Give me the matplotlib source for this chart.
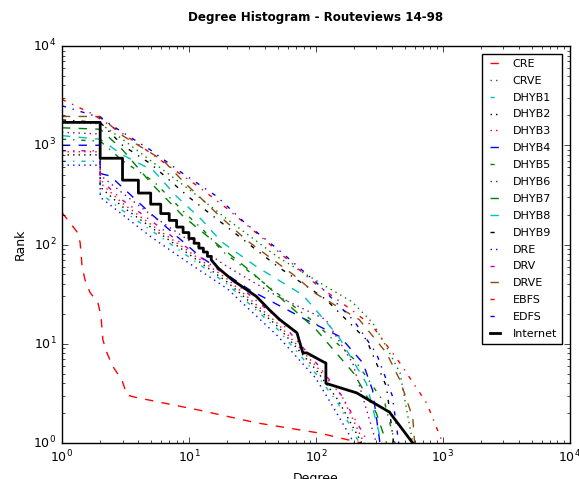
import matplotlib
matplotlib.use("Agg")
from matplotlib import pyplot as plt

plt.style.use("classic")
plt.rcParams["font.family"] = ["DejaVu Sans"]

# degree / rank pairs
cre_deg = [1, 1.31, 1.39, 1.44, 1.52, 1.66, 1.92, 2.03, 2.1, 2.26, 2.52, 2.97, 3.25, 3.75, 7.8, 12, 34, 107, 230]
cre_rank = [210, 135, 105, 60, 44, 33, 26, 19, 11, 8.1, 5.9, 4.3, 3.05, 2.9, 2.4, 2.15, 1.6, 1.26, 1]

crve_deg = [1, 2, 3, 5, 10, 20, 50, 108, 192, 280, 360, 460, 580]
crve_rank = [1700, 1650, 1150, 700, 360, 180, 75, 41, 26.6, 16.3, 9.3, 5.1, 1]

dhyb1_deg = [1, 2, 2, 3, 5, 10, 20, 50, 100, 150, 220]
dhyb1_rank = [690, 690, 330, 220, 140, 75, 40, 14, 5, 2.5, 1]

dhyb2_deg = [1, 2, 2, 3, 5, 10, 20, 50, 100, 150, 230]
dhyb2_rank = [800, 800, 380, 240, 150, 80, 42, 15, 5.5, 2.7, 1]

dhyb3_deg = [1, 2, 2, 3, 5, 10, 20, 50, 100, 160, 240]
dhyb3_rank = [860, 860, 420, 260, 160, 85, 45, 16, 6, 3, 1]

dhyb4_deg = [1, 2, 2, 2.4, 4.9, 12.2, 30, 80, 155, 235, 280, 320]
dhyb4_rank = [1000, 1000, 520, 490, 210, 76, 35, 18, 11.8, 6.4, 3.4, 1]

dhyb5_deg = [1, 2, 3, 5.3, 9.6, 12.9, 18.5, 40, 100, 200, 350, 420]
dhyb5_rank = [1150, 1100, 700, 430, 200, 141, 85, 40, 16, 7, 2.5, 1]

dhyb6_deg = [1, 2, 2, 3, 5, 10, 20, 50, 120, 195, 300]
dhyb6_rank = [1350, 1300, 500, 330, 200, 110, 60, 30, 17.5, 6.4, 1]

dhyb7_deg = [1, 2, 3, 5, 9, 13, 30, 60, 100, 200, 300, 360]
dhyb7_rank = [1500, 1450, 900, 420, 193, 131, 55, 25, 14, 5, 2, 1]

dhyb8_deg = [1, 2, 3, 5.3, 8, 12.6, 18, 34, 79, 150, 250, 330]
dhyb8_rank = [1250, 1150, 800, 550, 305, 178, 107, 60, 31, 12, 4, 1]

dhyb9_deg = [1, 2, 3, 5, 10, 20, 50, 120, 250, 360, 410]
dhyb9_rank = [1800, 1700, 1000, 650, 300, 150, 60, 28, 11, 3.7, 1]

dre_deg = [1, 2, 2, 3, 5, 10, 20, 50, 100, 140, 200]
dre_rank = [630, 630, 300, 200, 120, 65, 36, 12, 4.5, 2.2, 1]

drv_deg = [1, 2, 2, 3, 5, 10, 20, 50, 100, 160, 260]
drv_rank = [880, 880, 450, 280, 175, 90, 48, 18, 6.5, 3, 1]

drve_deg = [1, 2, 3, 6.3, 9, 12.2, 17.5, 28.6, 66, 100, 220, 360, 460, 580, 600]
drve_rank = [1950, 1950, 1250, 700, 433, 300, 193, 110, 50, 32, 17.5, 8.1, 4.3, 1.8, 1]

ebfs_deg = [1, 1.7, 3.25, 7.6, 12, 20, 40, 100, 200, 280, 460, 750, 1000]
ebfs_rank = [2900, 2100, 1230, 570, 380, 230, 110, 40, 21, 15, 6.4, 2.5, 1]

edfs_deg = [1, 2, 3, 4.9, 8.5, 16.6, 27, 50, 100, 200, 300, 400, 450]
edfs_rank = [2500, 1900, 1350, 910, 545, 305, 170, 90, 42, 17, 8, 3, 1]

inet_deg = [1, 2, 2, 3, 3, 4, 4, 5, 5, 6, 6, 7, 7, 8, 8, 9, 9, 10, 10, 11, 11, 12, 12,
            13, 13, 14, 14, 15, 15, 17, 22, 34, 43, 52, 71, 79, 85, 114, 120, 120, 210, 380, 580]
inet_rank = [1700, 1700, 740, 740, 445, 445, 330, 330, 255, 255, 205, 205, 175, 175, 150,
             150, 132, 132, 115, 115, 103, 103, 92, 92, 84, 84, 76, 76, 70, 58, 44, 30, 22,
             17.5, 12.9, 8.1, 8.1, 6.6, 6.4, 4.0, 3.2, 2.05, 1]

series = [
    ("CRE", cre_deg, cre_rank, "r", "--"),
    ("CRVE", crve_deg, crve_rank, "g", ":"),
    ("DHYB1", dhyb1_deg, dhyb1_rank, "c", "-."),
    ("DHYB2", dhyb2_deg, dhyb2_rank, "k", ":"),
    ("DHYB3", dhyb3_deg, dhyb3_rank, "r", ":"),
    ("DHYB4", dhyb4_deg, dhyb4_rank, "b", "--"),
    ("DHYB5", dhyb5_deg, dhyb5_rank, "g", "-."),
    ("DHYB6", dhyb6_deg, dhyb6_rank, "purple", ":"),
    ("DHYB7", dhyb7_deg, dhyb7_rank, "g", "--"),
    ("DHYB8", dhyb8_deg, dhyb8_rank, "c", "--"),
    ("DHYB9", dhyb9_deg, dhyb9_rank, "k", "-."),
    ("DRE", dre_deg, dre_rank, "b", ":"),
    ("DRV", drv_deg, drv_rank, "m", "-."),
    ("DRVE", drve_deg, drve_rank, "#8b4c14", "--"),
    ("EBFS", ebfs_deg, ebfs_rank, "r", "-."),
    ("EDFS", edfs_deg, edfs_rank, "b", "-."),
]

fig = plt.figure(figsize=(5.79, 4.79), dpi=100, facecolor="white")
ax = fig.add_axes([0.107, 0.075, 0.877, 0.829])

for name, d, r, col, ls in series:
    ax.loglog(d, r, color=col, linestyle=ls, linewidth=1, label=name)
ax.loglog(inet_deg, inet_rank, "k", linewidth=2, label="Internet")

ax.set_xlim(1, 1e4)
ax.set_ylim(1, 1e4)
ax.set_xlabel("Degree", fontsize=9)
ax.set_ylabel("Rank", fontsize=9)
ax.set_title("Degree Histogram - Routeviews 14-98", fontsize=8.6, fontweight="bold", pad=18)
ax.tick_params(labelsize=9)
ax.legend(loc="upper right", fontsize=8, handlelength=1.5, labelspacing=0.62,
          borderpad=0.45, handletextpad=0.8, borderaxespad=0.7)

fig.savefig("out.png", dpi=100, facecolor="white")
